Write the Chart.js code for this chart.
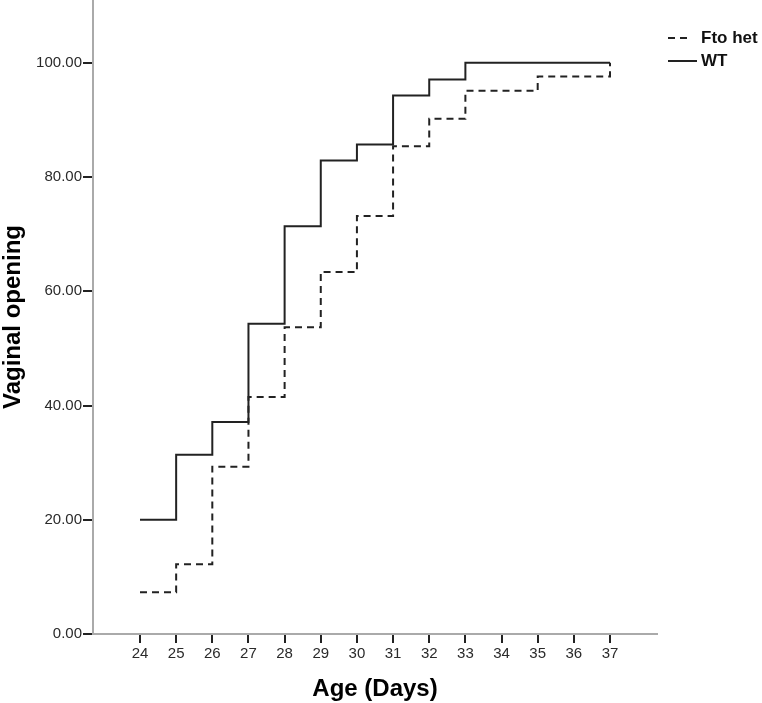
<!DOCTYPE html>
<html>
<head>
<meta charset="utf-8">
<title>Vaginal opening</title>
<script src="https://cdn.jsdelivr.net/npm/chart.js@4.4.1/dist/chart.umd.min.js"></script>
<style>
  html, body { margin: 0; padding: 0; background: #fff; }
  #wrap { width: 762px; height: 703px; position: relative; }
</style>
</head>
<body>
<div id="wrap"><canvas id="chart"></canvas></div>
<script>
// Dados
const hetDays   = [24, 25, 26, 27, 28, 29, 30, 31, 32, 33, 35, 37];
const hetValues = [7.3, 12.2, 29.3, 41.5, 53.7, 63.4, 73.2, 85.4, 90.2, 95.1, 97.6, 100.0];
const wtDays    = [24, 25, 26, 27, 28, 29, 30, 31, 32, 33, 37];
const wtValues  = [20.0, 31.4, 37.1, 54.3, 71.4, 82.9, 85.7, 94.3, 97.1, 100.0, 100.0];

const xTickValues = [24, 25, 26, 27, 28, 29, 30, 31, 32, 33, 34, 35, 36, 37];
const yTickValues = [0, 20, 40, 60, 80, 100];

const FONT = '"Liberation Sans", Arial, Helvetica, sans-serif';

const toPoints = (xs, ys) => xs.map((x, i) => ({ x: x, y: ys[i] }));

// Legenda lateral desenhada à mão
const sideLegend = {
  id: 'sideLegend',
  afterDraw(chart) {
    const ctx = chart.ctx;
    chart.data.datasets.forEach((ds, i) => {
      const y = 38 + i * 23;
      ctx.save();
      ctx.strokeStyle = ds.borderColor;
      ctx.lineWidth = 2;
      ctx.setLineDash(ds.borderDash || []);
      ctx.beginPath();
      ctx.moveTo(668, y);
      ctx.lineTo(ds.borderDash ? 690 : 697, y);
      ctx.stroke();
      ctx.setLineDash([]);
      ctx.fillStyle = '#111';
      ctx.font = 'bold 17px ' + FONT;
      ctx.textBaseline = 'middle';
      ctx.textAlign = 'left';
      ctx.fillText(ds.label, 701, y);
      ctx.restore();
    });
  }
};

new Chart(document.getElementById('chart').getContext('2d'), {
  type: 'line',
  data: {
    datasets: [
      {
        label: 'Fto het',
        data: toPoints(hetDays, hetValues),
        stepped: 'before',
        borderColor: '#222',
        borderWidth: 2,
        borderDash: [7, 5],
        pointRadius: 0,
        fill: false
      },
      {
        label: 'WT',
        data: toPoints(wtDays, wtValues),
        stepped: 'before',
        borderColor: '#222',
        borderWidth: 2,
        pointRadius: 0,
        fill: false
      }
    ]
  },
  options: {
    responsive: true,
    maintainAspectRatio: false,
    animation: false,
    layout: { padding: { top: 0, right: 105, left: 0, bottom: 0 } },
    plugins: {
      legend: { display: false },
      tooltip: { enabled: false }
    },
    scales: {
      x: {
        type: 'linear',
        min: 22.7,
        max: 38.3,
        afterBuildTicks: (scale) => { scale.ticks = xTickValues.map(v => ({ value: v })); },
        afterFit: (scale) => {
          scale.height = 69;
          scale.paddingLeft = 0;
          scale.paddingRight = 0;
        },
        ticks: {
          autoSkip: false,
          maxRotation: 0,
          padding: 2,
          color: '#2a2a2a',
          font: { family: FONT, size: 15 },
          callback: (v) => String(v)
        },
        grid: { drawOnChartArea: false, color: '#222', lineWidth: 2, tickLength: 9 },
        border: { color: '#aaa', width: 2 },
        title: {
          display: true,
          text: 'Age (Days)',
          color: '#000',
          font: { family: FONT, size: 24, weight: 'bold', lineHeight: 1 },
          padding: { top: 0, bottom: 2 }
        }
      },
      y: {
        min: 0,
        max: 111,
        afterBuildTicks: (scale) => { scale.ticks = yTickValues.map(v => ({ value: v })); },
        afterFit: (scale) => {
          scale.width = 93;
          scale.paddingTop = 0;
          scale.paddingBottom = 0;
        },
        ticks: {
          padding: 1,
          color: '#2a2a2a',
          font: { family: FONT, size: 15 },
          callback: (v) => Number(v).toFixed(2)
        },
        grid: { drawOnChartArea: false, color: '#222', lineWidth: 2, tickLength: 10 },
        border: { color: '#aaa', width: 2 },
        title: {
          display: true,
          text: 'Vaginal opening',
          color: '#000',
          font: { family: FONT, size: 24, weight: 'bold', lineHeight: 1 },
          padding: { top: 1, bottom: 0 }
        }
      }
    }
  },
  plugins: [sideLegend]
});
</script>
</body>
</html>
